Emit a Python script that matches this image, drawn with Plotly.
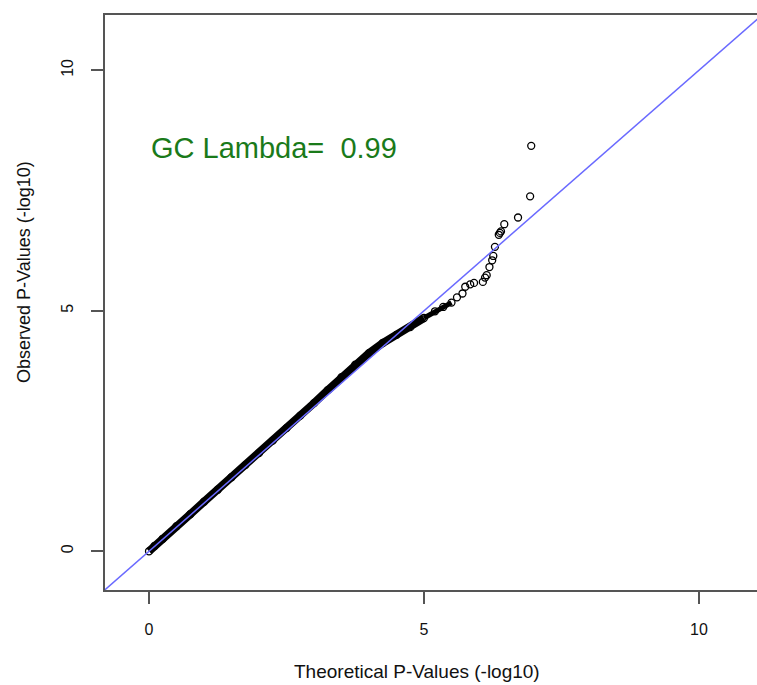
import plotly.graph_objects as go

# Theoretical (expected) and observed -log10 p-values
expected = [0.00, 0.10, 0.25, 0.50, 0.75, 1.00, 1.25, 1.50, 1.75, 2.00, 2.25, 2.50,
            2.75, 3.00, 3.25, 3.50, 3.75, 4.00, 4.25, 4.50, 4.75, 5.00, 5.20, 5.35,
            5.50, 5.60, 5.70, 5.75, 5.84, 5.91, 6.07, 6.11, 6.14, 6.19, 6.24, 6.26,
            6.29, 6.36, 6.38, 6.40, 6.46, 6.71, 6.93, 6.95]
observed = [0.00, 0.11, 0.26, 0.52, 0.77, 1.03, 1.28, 1.54, 1.79, 2.04, 2.30, 2.56,
            2.82, 3.08, 3.35, 3.62, 3.88, 4.12, 4.33, 4.50, 4.66, 4.85, 4.99, 5.08,
            5.17, 5.28, 5.36, 5.50, 5.55, 5.58, 5.60, 5.69, 5.74, 5.91, 6.05, 6.14,
            6.33, 6.58, 6.62, 6.65, 6.80, 6.94, 7.38, 8.43]
band_end = 25            # dense part of the cloud (drawn as a thick band)
diag = [-1, 12]          # reference line y = x
tick_vals = [0, 5, 10]
tick_text = ["0", "5", "10"]
gc_lambda = 0.99

FONT = "Liberation Sans, Arial, Helvetica, sans-serif"

fig = go.Figure()
fig.add_trace(go.Scatter(
    x=expected[:band_end - 3], y=observed[:band_end - 3], mode="lines",
    line=dict(color="black", width=8), hoverinfo="skip", showlegend=False))
fig.add_trace(go.Scatter(
    x=expected[band_end - 4:band_end], y=observed[band_end - 4:band_end], mode="lines",
    line=dict(color="black", width=5), hoverinfo="skip", showlegend=False))
fig.add_trace(go.Scatter(
    x=expected, y=observed, mode="markers",
    marker=dict(symbol="circle-open", size=7, color="black", line=dict(width=1.3)),
    showlegend=False))
fig.add_trace(go.Scatter(
    x=diag, y=diag, mode="lines",
    line=dict(color="#6a6aff", width=1.5), hoverinfo="skip", showlegend=False))

axis_common = dict(
    showgrid=False, zeroline=False, showline=True, linecolor="#555",
    linewidth=1.5, ticks="outside", ticklen=12, tickwidth=1.5, tickcolor="#555",
    tickfont=dict(family=FONT, size=16, color="#111"),
    tickvals=tick_vals, ticktext=tick_text, ticklabelstandoff=12,
)
fig.update_xaxes(range=[-0.8, 11.055], mirror=True, **axis_common)
fig.update_yaxes(range=[-0.805, 11.15], mirror=False, tickangle=-90, **axis_common)

fig.add_annotation(
    x=0.0, y=8.38, xref="x", yref="y", xanchor="left", yanchor="middle",
    text="GC Lambda=\u00a0\u00a0" + f"{gc_lambda:.2f}", showarrow=False,
    font=dict(family=FONT, size=29, color="#1a7a1a"))
fig.add_annotation(
    x=0.4785, y=-0.1426, xref="paper", yref="paper", xanchor="center", yanchor="middle",
    text="Theoretical P-Values (-log10)", showarrow=False,
    font=dict(family=FONT, size=19, color="#111"))
fig.add_annotation(
    x=-0.1242, y=0.553, xref="paper", yref="paper", xanchor="center", yanchor="middle",
    text="Observed P-Values (-log10)", showarrow=False, textangle=-90,
    font=dict(family=FONT, size=18, color="#111"))

fig.update_layout(
    width=757, height=685,
    margin=dict(l=105, r=0, t=15, b=95),
    paper_bgcolor="white", plot_bgcolor="white",
    showlegend=False,
)
# Remove the default page margin so the figure fills the window exactly.
fig.write_html(
    "out.html",
    config={"displayModeBar": False},
    post_script="document.body.style.margin='0';document.body.style.overflow='hidden';",
)
